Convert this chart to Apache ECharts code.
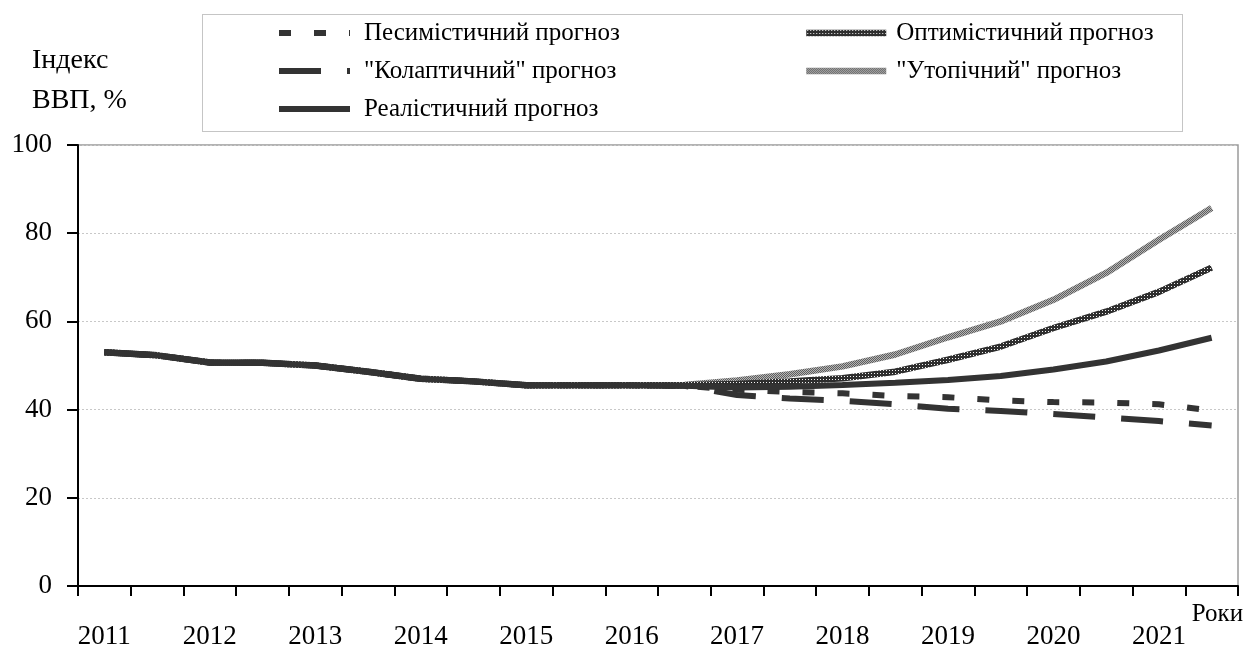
<!DOCTYPE html>
<html>
<head>
<meta charset="utf-8">
<script src="https://cdn.jsdelivr.net/npm/echarts@6/dist/echarts.min.js"></script>
<style>
html,body{margin:0;padding:0;background:#fff;}
#chart{width:1255px;height:650px;}
</style>
</head>
<body>
<div id="chart"></div>
<script>
// ---- data ----
var yearLabels = ['2011','2012','2013','2014','2015','2016','2017','2018','2019','2020','2021'];
var halfLabels = ['I','II'];
var yTicks = [0, 20, 40, 60, 80, 100];
var pastValues = [53.0, 52.3, 50.7, 50.6, 50.0, 48.6, 47.0, 46.4, 45.5, 45.5, 45.5];
var pessimistic = [45.4, 44.5, 44.0, 43.7, 43.1, 42.8, 42.1, 41.7, 41.6, 41.2, 39.8];
var collapse = [45.4, 43.3, 42.5, 42.0, 41.2, 40.2, 39.7, 39.0, 38.2, 37.4, 36.4];
var realistic = [45.4, 45.0, 45.2, 45.6, 46.1, 46.7, 47.6, 49.1, 50.9, 53.4, 56.3];
var optimistic = [45.5, 45.8, 46.4, 47.1, 48.6, 51.3, 54.3, 58.5, 62.2, 66.7, 72.2];
var utopian = [45.6, 46.6, 48.0, 49.8, 52.5, 56.4, 60.0, 64.9, 71.0, 78.5, 85.7];
var names = ['Песимістичний прогноз', '"Колаптичний" прогноз', 'Реалістичний прогноз', 'Оптимістичний прогноз', '"Утопічний" прогноз'];
var axisTitle = 'Індекс\nВВП, %';
var xName = 'Роки';

// ---- build ----
var categories = [];
yearLabels.forEach(function (y) { halfLabels.forEach(function (h) { categories.push(y + ' ' + h); }); });

function makePattern(size, bg, fg, cells) {
  var c = document.createElement('canvas');
  c.width = size; c.height = size;
  var ctx = c.getContext('2d');
  ctx.fillStyle = bg; ctx.fillRect(0, 0, size, size);
  ctx.fillStyle = fg;
  cells.forEach(function (p) { ctx.fillRect(p[0], p[1], p[2], p[3]); });
  return { image: c, repeat: 'repeat' };
}
var optPattern = makePattern(3, '#2e2e2e', '#f4f4f4', [[1, 1, 1, 1]]);
var utoPattern = makePattern(2, '#b4b4b4', '#5e5e5e', [[0, 0, 1, 1], [1, 1, 1, 1]]);

var FONT = 'Liberation Serif';
var chart = echarts.init(document.getElementById('chart'), null, { renderer: 'canvas' });

function mk(name, vals, lineStyle, z) {
  return {
    name: name, type: 'line', data: pastValues.concat(vals), symbol: 'none', smooth: false,
    itemStyle: { color: '#333333' },
    lineStyle: lineStyle, z: z
  };
}

var legendCommon = {
  orient: 'vertical', top: 20, padding: 0, itemHeight: 14, itemGap: 12,
  itemStyle: { color: 'rgba(0,0,0,0)', borderColor: 'rgba(0,0,0,0)', borderWidth: 0, opacity: 0 },
  lineStyle: { width: 'inherit', type: 'inherit', color: 'inherit', cap: 'butt' }
};

chart.setOption({
  animation: false,
  backgroundColor: '#ffffff',
  title: {
    text: axisTitle, left: 32, top: 41, padding: 0,
    textStyle: { fontFamily: FONT, fontSize: 28, fontWeight: 'normal', color: '#000', lineHeight: 40 }
  },
  graphic: [{
    type: 'rect', left: 200, top: 12, z: 0,
    shape: { width: 980, height: 117 },
    style: { fill: 'none', stroke: '#8a8a8a', lineWidth: 1, lineDash: [1, 1] }
  }],
  legend: [
    Object.assign({}, legendCommon, {
      data: [names[0], names[1], names[2]], left: 276, itemWidth: 71,
      textStyle: { fontFamily: FONT, fontSize: 25, color: '#000', lineHeight: 26, padding: [0, 0, 0, 9] }
    }),
    Object.assign({}, legendCommon, {
      data: [names[3], names[4]], left: 803, itemWidth: 80,
      textStyle: { fontFamily: FONT, fontSize: 25, color: '#000', lineHeight: 26, padding: [0, 0, 0, 5] }
    })
  ],
  grid: { left: 78, right: 17, top: 145, bottom: 63, show: true, borderColor: '#9a9a9a', borderWidth: 1.5, containLabel: false },
  xAxis: {
    type: 'category', data: categories, boundaryGap: true,
    name: xName, nameLocation: 'end', nameGap: 0,
    nameTextStyle: { fontFamily: FONT, fontSize: 25, color: '#000', align: 'right', verticalAlign: 'top', padding: [16, 0, 0, 0] },
    axisLine: { show: true, lineStyle: { color: '#000', width: 2 } },
    axisTick: { show: true, interval: 0, length: 10, inside: false, lineStyle: { color: '#000', width: 2 } },
    axisLabel: {
      interval: 1, margin: 37, fontFamily: FONT, fontSize: 27, color: '#000',
      formatter: function (v) { return v.split(' ')[0]; }
    },
    splitLine: { show: false }
  },
  yAxis: {
    type: 'value', min: yTicks[0], max: yTicks[yTicks.length - 1], interval: 20,
    axisLine: { show: true, lineStyle: { color: '#000', width: 2 } },
    axisTick: { show: true, length: 11, inside: false, lineStyle: { color: '#000', width: 2 } },
    axisLabel: { margin: 26, fontFamily: FONT, fontSize: 27, color: '#000' },
    splitLine: { show: true, lineStyle: { color: '#c8c8c8', width: 1, type: [2, 2] } }
  },
  series: [
    mk(names[4], utopian, { color: utoPattern, width: 6.5 }, 2),
    mk(names[3], optimistic, { color: optPattern, width: 6.5 }, 3),
    mk(names[0], pessimistic, { color: '#333333', width: 6, type: [12, 23], cap: 'butt' }, 4),
    mk(names[1], collapse, { color: '#333333', width: 6, type: [42, 26], cap: 'butt' }, 5),
    mk(names[2], realistic, { color: '#333333', width: 6 }, 6)
  ]
});
</script>
</body>
</html>
